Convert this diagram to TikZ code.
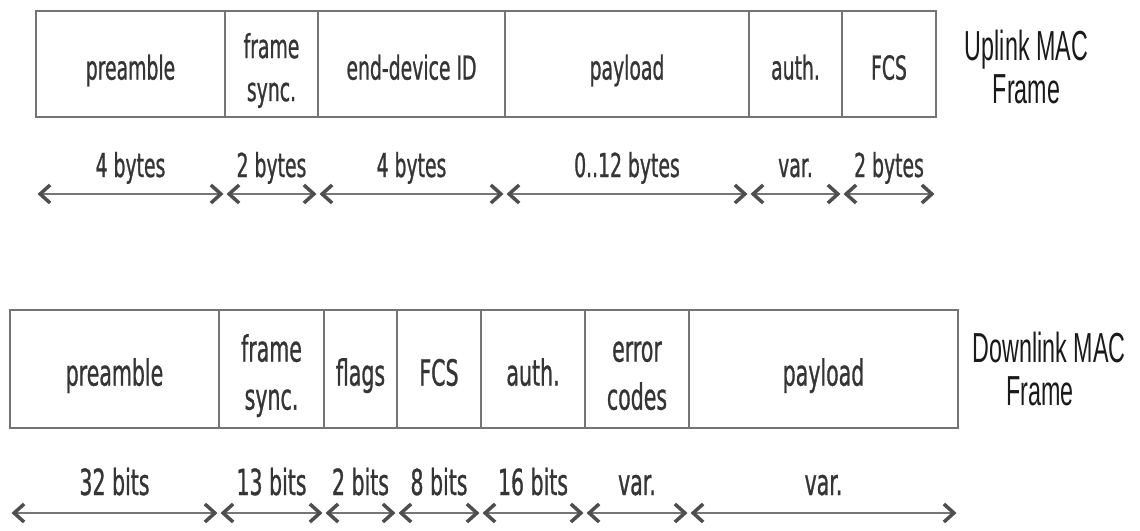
\documentclass[tikz,border=0pt]{standalone}
\usepackage{fontspec}
\setmainfont{DejaVu Sans}[FakeStretch=0.57,FakeBold=0.8]
\newfontfamily\titlefont{Liberation Sans}[FakeStretch=0.555]
\usetikzlibrary{arrows.meta}
\definecolor{boxline}{HTML}{747474}
\definecolor{fieldtext}{HTML}{353535}
\definecolor{dimline}{HTML}{767676}
\definecolor{tipcolor}{HTML}{4E4E4E}
\definecolor{titletext}{HTML}{1A1A1A}
\newcommand\fieldlines[1]{\raisebox{-7pt}[\height][\depth]{\begin{tabular}{@{}c@{}}#1\end{tabular}}}
\begin{document}
\begin{tikzpicture}[x=1pt,y=-1pt,
  field/.style={draw=boxline, line width=2pt, inner sep=0pt, outer sep=0pt, text=fieldtext},
  upfield/.style={field, minimum height=106pt, font=\fontsize{33}{43}\selectfont},
  downfield/.style={field, minimum height=118pt, font=\fontsize{36}{48}\selectfont},
  upsize/.style={text=fieldtext, inner sep=0pt, anchor=base, font=\fontsize{33}{43}\selectfont},
  downsize/.style={text=fieldtext, inner sep=0pt, anchor=base, font=\fontsize{36}{48}\selectfont},
  barb/.tip={Straight Barb[length=10pt,width=18pt,line width=3.5pt,color=tipcolor]},
  dimarrow/.style={draw=dimline, line width=2pt, shorten <=1.5pt, shorten >=1.5pt, barb-barb},
  frametitle/.style={text=titletext, font=\titlefont\fontsize{42}{43}\selectfont, align=center, inner sep=0pt}]
\useasboundingbox (0,0) rectangle (1140,530);

% Uplink frame
\node[upfield, minimum width=189pt] (u1) at (130.5,64) {\fieldlines{preamble}};
\node[upfield, minimum width=93pt]  (u2) at (271.5,64) {\fieldlines{frame\\sync.}};
\node[upfield, minimum width=187pt] (u3) at (411.5,64) {\fieldlines{end-device ID}};
\node[upfield, minimum width=244pt] (u4) at (627,64)   {\fieldlines{payload}};
\node[upfield, minimum width=93pt]  (u5) at (795.5,64) {\fieldlines{auth.}};
\node[upfield, minimum width=94pt]  (u6) at (889,64)   {\fieldlines{FCS}};
\node[frametitle] (utitle) at (1026.5,67) {Uplink MAC\\Frame};

\coordinate (upy) at (0,194);
\coordinate (upt) at (0,177);
\node[upsize] (us1) at (u1.center |- upt) {4 bytes};
\node[upsize] (us2) at (u2.center |- upt) {2 bytes};
\node[upsize] (us3) at (u3.center |- upt) {4 bytes};
\node[upsize] (us4) at (u4.center |- upt) {0..12 bytes};
\node[upsize] (us5) at (u5.center |- upt) {var.};
\node[upsize] (us6) at (u6.center |- upt) {2 bytes};
\foreach \f in {u1,u2,u3,u4,u5,u6}
  \draw[dimarrow] (\f.west |- upy) -- (\f.east |- upy);

% Downlink frame
\node[downfield, minimum width=209pt] (d1) at (114.5,369) {\fieldlines{preamble}};
\node[downfield, minimum width=105pt] (d2) at (271.5,369) {\fieldlines{frame\\sync.}};
\node[downfield, minimum width=73pt]  (d3) at (360.5,369) {\fieldlines{flags}};
\node[downfield, minimum width=84pt]  (d4) at (439,369)   {\fieldlines{FCS}};
\node[downfield, minimum width=104pt] (d5) at (533,369)   {\fieldlines{auth.}};
\node[downfield, minimum width=104pt] (d6) at (637,369)   {\fieldlines{error\\codes}};
\node[downfield, minimum width=269pt] (d7) at (823.5,369) {\fieldlines{payload}};
\node[frametitle] (dtitle) at (1049,369) {Downlink MAC\\Frame\hspace*{18pt}};

\coordinate (dny) at (0,513);
\coordinate (dnt) at (0,495);
\node[downsize] (ds1) at (d1.center |- dnt) {32 bits};
\node[downsize] (ds2) at (d2.center |- dnt) {13 bits};
\node[downsize] (ds3) at (d3.center |- dnt) {2 bits};
\node[downsize] (ds4) at (d4.center |- dnt) {8 bits};
\node[downsize] (ds5) at (d5.center |- dnt) {16 bits};
\node[downsize] (ds6) at (d6.center |- dnt) {var.};
\node[downsize] (ds7) at (d7.center |- dnt) {var.};
\foreach \f in {d1,d2,d3,d4,d5,d6,d7}
  \draw[dimarrow] (\f.west |- dny) -- (\f.east |- dny);
\end{tikzpicture}
\end{document}
